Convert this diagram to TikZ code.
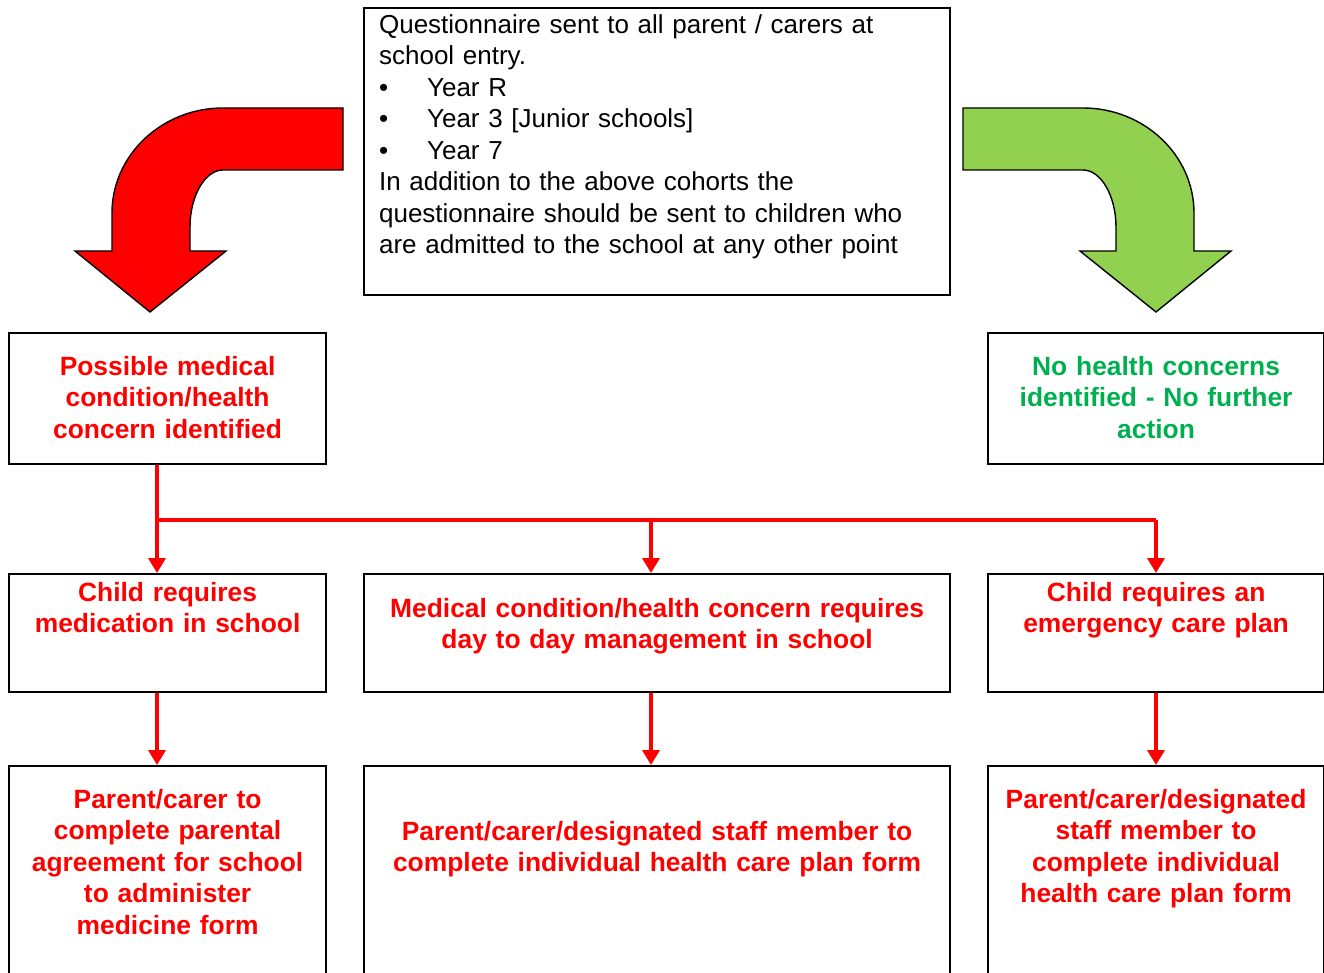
\documentclass[tikz,border=0pt]{standalone}
\usepackage{fontspec}
\setmainfont{Liberation Sans}
\usepackage{tikz}
\usetikzlibrary{arrows.meta, positioning}
\usepackage{xcolor}
\definecolor{alertred}{HTML}{FF0000}
\definecolor{leafgreen}{HTML}{92D050}
\definecolor{okgreen}{HTML}{00B050}
\newcommand{\flowfont}{\fontsize{13.2pt}{15.75pt}\selectfont}
\newcommand{\infofont}{\fontsize{13pt}{15.75pt}\selectfont}

\begin{document}
\begin{tikzpicture}[
    x=0.5pt, y=-0.5pt,
    box/.style={draw=black, line width=1.1pt, anchor=north west, inner xsep=4pt, inner ysep=0pt, align=center, font=\flowfont\bfseries, text=alertred},
    infobox/.style={box, inner xsep=7.5pt, align=left, font=\infofont, text=black},
    bigarrow/.style={draw=black, line width=0.7pt, line join=miter},
    redline/.style={draw=alertred, line width=1.8pt},
    flow/.style={redline, -{Triangle[width=8.5pt, length=7.5pt]}}
]
    \useasboundingbox (0,0) rectangle (1324,973);

    % questionnaire
    \node[infobox, text width=278pt, text height=12.5pt, text depth=131pt] (quest) at (363,7)
        {Questionnaire sent to all parent / carers at\\
         school entry.\\
         \makebox[24pt][l]{\textbullet}Year R\\
         \makebox[24pt][l]{\textbullet}Year 3 [Junior schools]\\
         \makebox[24pt][l]{\textbullet}Year 7\\
         In addition to the above cohorts the\\
         questionnaire should be sent to children who\\
         are admitted to the school at any other point};

    % curved arrows
    \path[bigarrow, fill=alertred] (343,108) -- (223,108) .. controls (162,108) and (112,155) .. (112,213)
        -- (112,251) -- (75,251) -- (150,312) -- (226,251) -- (190,251) -- (190,227)
        .. controls (190,196) and (205,170) .. (223,170) -- (343,170) -- cycle;
    \path[bigarrow, fill=leafgreen] (963,108) -- (1083,108) .. controls (1144,108) and (1194,155) .. (1194,213)
        -- (1194,251) -- (1231,251) -- (1156,312) -- (1080,251) -- (1116,251) -- (1116,227)
        .. controls (1116,196) and (1101,170) .. (1083,170) -- (963,170) -- cycle;

    % outcome of questionnaire
    \node[box, text width=150.5pt, text height=21pt, text depth=44.5pt] (med) at (8,332)
        {Possible medical\\condition/health\\concern identified};
    \node[box, text width=160pt, text height=21pt, text depth=44.5pt, text=okgreen] (none) at (987,332)
        {No health concerns\\identified - No further\\action};

    % type of need
    \node[box, text width=150.5pt, text height=13.5pt, text depth=45.5pt] (medic) at (8,573)
        {Child requires\\medication in school};
    \node[box, text width=285pt, text height=21.5pt, text depth=37.5pt] (daily) at (363,573)
        {Medical condition/health concern requires\\day to day management in school};
    \node[box, text width=160pt, text height=13.5pt, text depth=45.5pt] (emerg) at (987,573)
        {Child requires an\\emergency care plan};

    % forms
    \node[box, text width=150.5pt, text height=21pt, text depth=99pt] (medform) at (8,765)
        {Parent/carer to\\complete parental\\agreement for school\\to administer\\medicine form};
    \node[box, text width=285pt, text height=37pt, text depth=83pt] (planform) at (363,765)
        {Parent/carer/designated staff member to\\complete individual health care plan form};
    \node[box, text width=160pt, text height=21pt, text depth=99pt] (staffform) at (987,765)
        {Parent/carer/designated\\staff member to\\complete individual\\health care plan form};

    % connectors
    \coordinate (colA) at (157,520);
    \coordinate (colB) at (651,520);
    \coordinate (colC) at (1156,520);
    \draw[flow] (med.south -| colA) -- (medic.north -| colA);
    \draw[redline] (colA) -- (colC);
    \draw[flow] (colB) -- (daily.north -| colB);
    \draw[flow] (colC) -- (emerg.north -| colC);
    \draw[flow] (medic.south -| colA) -- (medform.north -| colA);
    \draw[flow] (daily.south -| colB) -- (planform.north -| colB);
    \draw[flow] (emerg.south -| colC) -- (staffform.north -| colC);
\end{tikzpicture}
\end{document}
